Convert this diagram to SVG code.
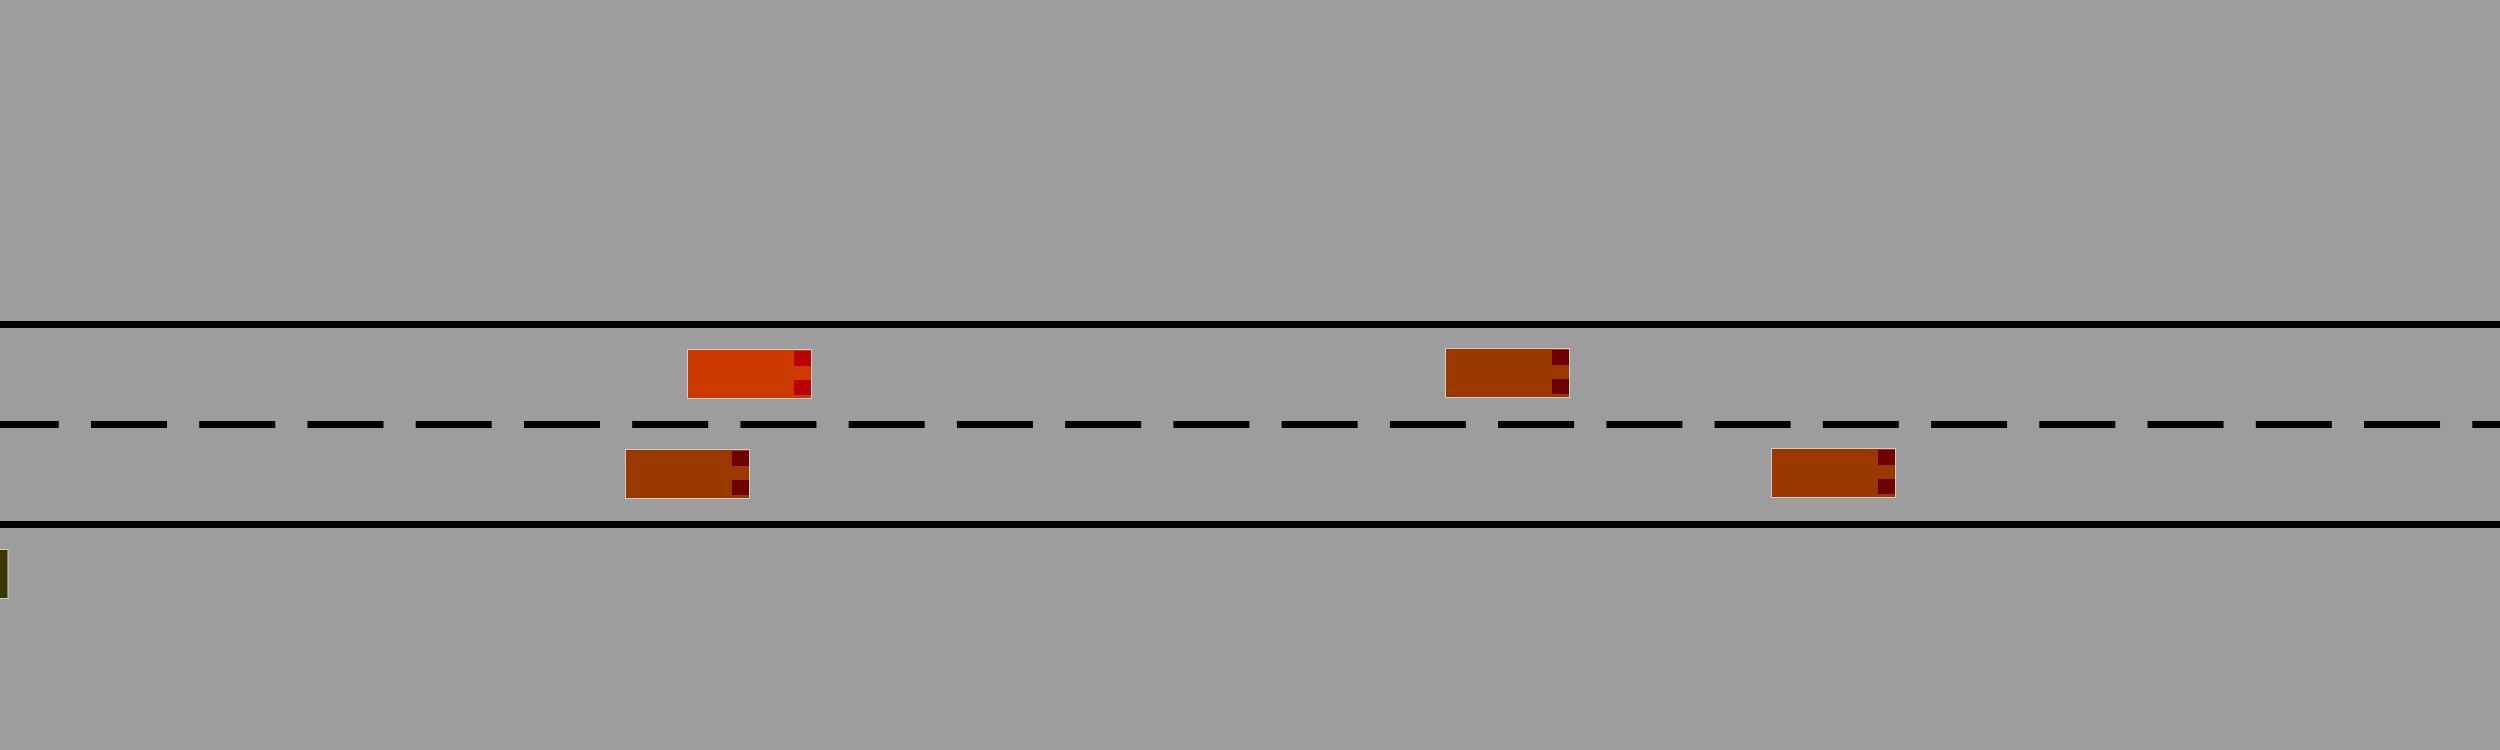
<svg xmlns="http://www.w3.org/2000/svg" width="2500" height="750" viewBox="0 0 2500 750">
<style>
.line{stroke:#000;stroke-width:7;fill:none}
.body{stroke:#d2cac4;stroke-width:1}
.redbody{fill:#cc3a00}
.redlamp{fill:#bb0000}
.brownbody{fill:#9b3800}
.brownlamp{fill:#6e0000}
</style>
<defs>
<g id="carRed">
<rect class="body redbody" x="0.5" y="0.5" width="124" height="49"/>
<rect class="redlamp" x="107" y="2" width="17" height="15"/>
<rect class="redlamp" x="107" y="31" width="17" height="15"/>
</g>
<g id="carBrown">
<rect class="body brownbody" x="0.5" y="0.5" width="124" height="49"/>
<rect class="brownlamp" x="107" y="2" width="17" height="15"/>
<rect class="brownlamp" x="107" y="31" width="17" height="15"/>
</g>
</defs>
<rect width="2500" height="750" fill="#9d9d9d"/>
<g id="road">
<line class="line" x1="0" y1="324.5" x2="2500" y2="324.5"/>
<line class="line" x1="0" y1="524.5" x2="2500" y2="524.5"/>
<line class="line" x1="0" y1="424.5" x2="2500" y2="424.5" stroke-dasharray="76 32.24" stroke-dashoffset="17.24"/>
</g>
<g id="car1"><use href="#carRed" x="687" y="349"/></g>
<g id="car2"><use href="#carBrown" x="625" y="449"/></g>
<g id="car3"><use href="#carBrown" x="1445" y="348"/></g>
<g id="car4"><use href="#carBrown" x="1771" y="448"/></g>
<g id="car5"><rect class="body" x="-117" y="549.5" width="125" height="49" fill="#3a3800"/></g>
</svg>
